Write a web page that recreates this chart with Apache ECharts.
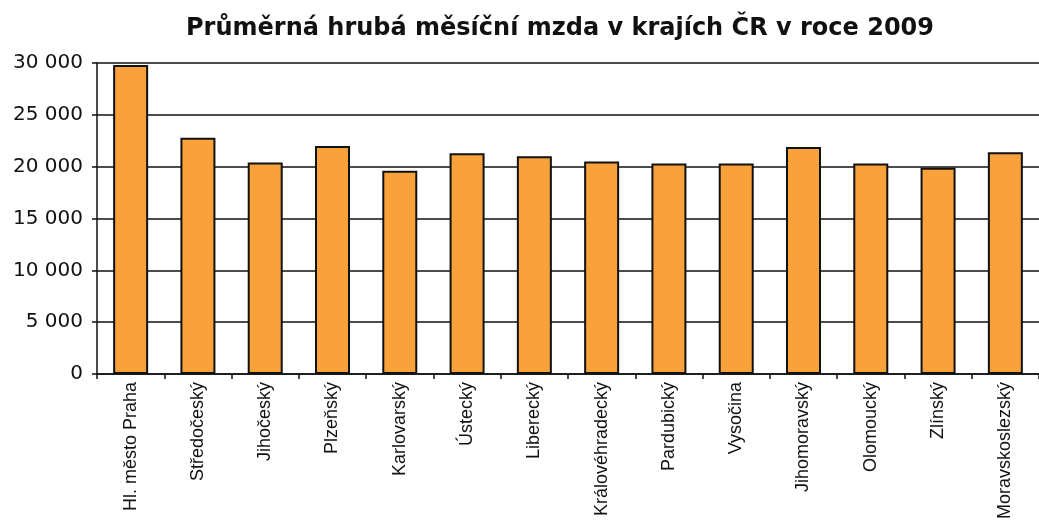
<!DOCTYPE html>
<html>
<head>
<meta charset="utf-8">
<script src="https://cdn.jsdelivr.net/npm/echarts@6/dist/echarts.min.js"></script>
<style>
  html, body { margin: 0; padding: 0; background: #fff; }
  #chart { width: 1039px; height: 531px; }
</style>
</head>
<body>
<div id="chart"></div>
<script>
// kraje ČR
const regions = [
  'Hl. město Praha', 'Středočeský', 'Jihočeský', 'Plzeňský', 'Karlovarský',
  'Ústecký', 'Liberecký', 'Královéhradecký', 'Pardubický', 'Vysočina',
  'Jihomoravský', 'Olomoucký', 'Zlínský', 'Moravskoslezský'
]

// průměrná hrubá mzda (Kč)
const wages = [
  29800, 22800, 20400, 22000, 19600,
  21300, 21000, 20500, 20300, 20300,
  21900, 20300, 19900, 21400
]

const yTicks = [0, 5000, 10000, 15000, 20000, 25000, 30000]

// formát s mezerou jako oddělovačem tisíců
function fmt(v) {
  return String(v).replace(/\B(?=(\d{3})+(?!\d))/g, ' ')
}

const chart = echarts.init(document.getElementById('chart'))

const option = {
  animation: false,
  title: {
    text: 'Průměrná hrubá měsíční mzda v krajích ČR v roce 2009',
    left: 555,
    top: 12,
    textAlign: 'center',
    textStyle: {
      fontFamily: 'DejaVu Sans',
      fontWeight: 'bold',
      fontSize: 24,
      color: '#111'
    }
  },
  grid: {
    left: 97,
    right: -10,
    top: 63,
    bottom: 157,
    containLabel: false
  },
  xAxis: {
    type: 'category',
    data: regions,
    axisLine: { lineStyle: { color: '#111', width: 1.5 } },
    axisTick: { show: true, length: 5, lineStyle: { color: '#111', width: 1.5 } },
    axisLabel: {
      rotate: 90,
      interval: 0,
      margin: 8,
      fontFamily: 'Liberation Sans',
      fontSize: 18,
      color: '#111'
    }
  },
  yAxis: {
    type: 'value',
    min: yTicks[0],
    max: yTicks[yTicks.length - 1],
    interval: 5000,
    axisLine: { show: true, lineStyle: { color: '#111', width: 1.5 } },
    axisTick: { show: true, length: 5, lineStyle: { color: '#111', width: 1.5 } },
    splitLine: { show: true, lineStyle: { color: '#111', width: 1.5 } },
    axisLabel: {
      margin: 14,
      fontFamily: 'DejaVu Sans',
      fontSize: 20,
      color: '#111',
      formatter: v => fmt(v)
    }
  },
  series: [
    {
      name: 'Mzda',
      type: 'bar',
      data: wages,
      barWidth: 35,
      itemStyle: {
        color: '#f9a13a',
        borderColor: '#111',
        borderWidth: 2
      }
    }
  ]
}

chart.setOption(option)
</script>
</body>
</html>
